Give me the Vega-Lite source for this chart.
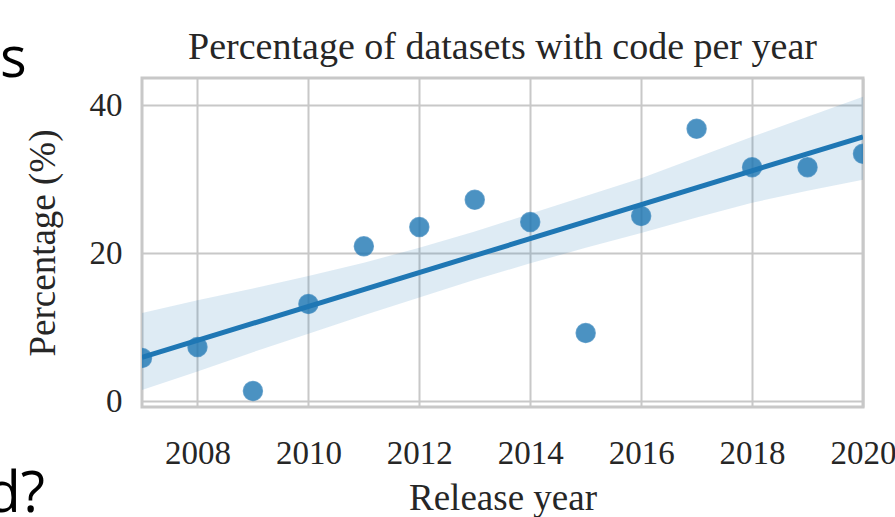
{
  "$schema": "https://vega.github.io/schema/vega-lite/v6.json",
  "width": 721,
  "height": 329,
  "autosize": {"type": "none"},
  "padding": {"left": 142, "top": 78, "right": 32, "bottom": 110},
  "background": "white",
  "datasets": {
    "points": [
      {"year": 2007, "pct": 5.8},
      {"year": 2008, "pct": 7.3},
      {"year": 2009, "pct": 1.35},
      {"year": 2010, "pct": 13.1},
      {"year": 2011, "pct": 20.9},
      {"year": 2012, "pct": 23.5},
      {"year": 2013, "pct": 27.2},
      {"year": 2014, "pct": 24.2},
      {"year": 2015, "pct": 9.2},
      {"year": 2016, "pct": 25.0},
      {"year": 2017, "pct": 36.8},
      {"year": 2018, "pct": 31.6},
      {"year": 2019, "pct": 31.6},
      {"year": 2020, "pct": 33.4}
    ],
    "band": [
      {"year": 2007, "lo": 1.5, "hi": 11.9},
      {"year": 2008, "lo": 4.0, "hi": 13.6},
      {"year": 2009, "lo": 6.6, "hi": 15.2},
      {"year": 2010, "lo": 9.1, "hi": 16.9},
      {"year": 2011, "lo": 11.6, "hi": 18.7},
      {"year": 2012, "lo": 14.0, "hi": 20.7},
      {"year": 2013, "lo": 16.4, "hi": 22.9},
      {"year": 2014, "lo": 18.6, "hi": 25.3},
      {"year": 2015, "lo": 20.7, "hi": 27.7},
      {"year": 2016, "lo": 22.7, "hi": 30.1},
      {"year": 2017, "lo": 24.8, "hi": 32.9},
      {"year": 2018, "lo": 26.8, "hi": 35.7},
      {"year": 2019, "lo": 28.4, "hi": 38.4},
      {"year": 2020, "lo": 29.9, "hi": 41.1}
    ],
    "fit": [
      {"year": 2007, "pct": 5.9},
      {"year": 2020, "pct": 35.7}
    ]
  },
  "title": {
    "text": "Percentage of datasets with code per year",
    "font": "Liberation Serif",
    "fontSize": 38,
    "fontWeight": "normal",
    "color": "#262626",
    "baseline": "alphabetic",
    "offset": 20,
    "dy": 85
  },
  "config": {
    "view": {"stroke": "#c8c8c8", "strokeWidth": 3},
    "axis": {
      "domain": false,
      "ticks": false,
      "gridColor": "#c8c8c8",
      "gridWidth": 2,
      "labelFont": "Liberation Serif",
      "labelFontSize": 33,
      "labelColor": "#262626",
      "titleFont": "Liberation Serif",
      "titleFontSize": 37,
      "titleFontWeight": "normal",
      "titleColor": "#262626"
    }
  },
  "layer": [
    {
      "data": {"name": "points"},
      "mark": {"type": "point", "filled": true, "clip": true, "size": 360, "color": "#1f77b4", "opacity": 0.8, "stroke": "#1f77b4", "strokeWidth": 1.5, "strokeOpacity": 0.8},
      "encoding": {
        "x": {
          "field": "year", "type": "quantitative",
          "scale": {"domain": [2007, 2020], "nice": false, "zero": false},
          "axis": {
            "values": [2008, 2010, 2012, 2014, 2016, 2018, 2020],
            "format": "d",
            "title": "Release year",
            "labelBaseline": "alphabetic",
            "labelPadding": 56,
            "labelFlush": false,
            "titleBaseline": "alphabetic",
            "titleY": 102
          }
        },
        "y": {
          "field": "pct", "type": "quantitative",
          "scale": {"domain": [-0.81, 43.65], "nice": false, "zero": false},
          "axis": {
            "values": [0, 20, 40],
            "title": "Percentage (%)",
            "labelPadding": 20,
            "labelFlush": false,
            "titleBaseline": "alphabetic",
            "titleX": -88
          }
        }
      }
    },
    {
      "data": {"name": "band"},
      "mark": {"type": "area", "clip": true, "color": "#1f77b4", "opacity": 0.15},
      "encoding": {
        "x": {"field": "year", "type": "quantitative"},
        "y": {"field": "lo", "type": "quantitative"},
        "y2": {"field": "hi"}
      }
    },
    {
      "data": {"name": "fit"},
      "mark": {"type": "line", "clip": true, "color": "#1f77b4", "strokeWidth": 5},
      "encoding": {
        "x": {"field": "year", "type": "quantitative"},
        "y": {"field": "pct", "type": "quantitative"}
      }
    },
    {
      "data": {"values": [{"t": "s"}]},
      "mark": {"type": "text", "font": "Open Sans", "fontSize": 56, "color": "black", "align": "left", "baseline": "alphabetic", "clip": false},
      "encoding": {
        "x": {"datum": 2004.44},
        "y": {"datum": 43.78},
        "text": {"field": "t"}
      }
    },
    {
      "data": {"values": [{"t": "d?"}]},
      "mark": {"type": "text", "font": "Open Sans", "fontSize": 56, "color": "black", "align": "right", "baseline": "alphabetic", "clip": false},
      "encoding": {
        "x": {"datum": 2005.25},
        "y": {"datum": -15.0},
        "text": {"field": "t"}
      }
    }
  ]
}
